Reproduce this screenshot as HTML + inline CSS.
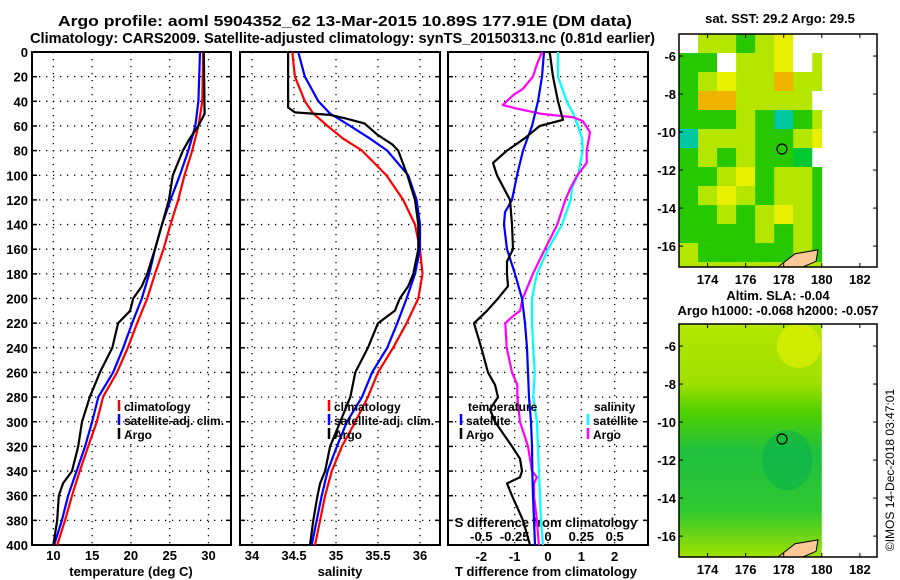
<!DOCTYPE html>
<html><head><meta charset="utf-8"><style>
html,body{margin:0;padding:0;background:#fff;}
svg{display:block;font-family:"Liberation Sans",sans-serif;}
.t{font-weight:bold;font-size:13px;}
.lg{font-weight:bold;font-size:12px;}
</style></head><body>
<svg id="c" width="900" height="580" viewBox="0 0 900 580" xmlns="http://www.w3.org/2000/svg">
<text x="58" y="26" textLength="574" lengthAdjust="spacingAndGlyphs" class="t" style="font-size:15px">Argo profile: aoml 5904352_62 13-Mar-2015 10.89S 177.91E (DM data)</text>
<text x="30" y="43" textLength="625" lengthAdjust="spacingAndGlyphs" class="t" style="font-size:15px">Climatology: CARS2009. Satellite-adjusted climatology: synTS_20150313.nc (0.81d earlier)</text>
<text x="780" y="23" text-anchor="middle" class="t">sat. SST: 29.2 Argo: 29.5</text>
<text x="778" y="300" text-anchor="middle" class="t">Altim. SLA: -0.04</text>
<text x="778" y="315" text-anchor="middle" class="t">Argo h1000: -0.068 h2000: -0.057</text>
<text transform="translate(894,470) rotate(-90)" text-anchor="middle" style="font-size:12px">©IMOS 14-Dec-2018 03:47:01</text>
<text x="131" y="576" text-anchor="middle" class="t">temperature (deg C)</text>
<text x="340" y="576" text-anchor="middle" class="t">salinity</text>
<text x="546" y="576" text-anchor="middle" class="t">T difference from climatology</text>
<text x="546" y="527" text-anchor="middle" class="t">S difference from climatology</text>
</svg>
<script>
// ---- data (depths in m) ----
const depthsT = [0,40,60,80,100,120,140,160,180,200,220,240,260,280,300,320,340,360,380,400];
const tempClim = [29.3,29.2,28.7,27.9,26.9,26.1,25.1,24.2,23.1,22.1,20.8,19.6,18.2,16.4,15.6,14.5,13.4,12.4,11.5,10.5];
const tempSat  = [28.9,28.7,28.3,27.4,26.3,25.1,24.0,23.1,22.35,21.4,20.15,19.0,17.7,15.8,15.0,14.1,13.0,11.9,11.1,10.1];
const depthsArgoT = [0,50,60,70,80,100,120,140,160,180,190,200,210,220,240,260,280,300,320,340,350,360,380,400];
const tempArgo = [29.4,29.5,28.7,27.6,26.7,25.4,24.9,24.0,23.1,22.1,21.4,20.3,19.9,18.35,17.6,16.0,14.7,13.7,13.2,12.4,11.25,10.7,10.5,10.0];

const depthsS = [0,20,40,50,60,70,80,100,120,140,160,180,200,220,240,260,280,300,320,340,360,380,400];
const salClim = [34.48,34.51,34.63,34.73,34.90,35.08,35.31,35.60,35.80,35.94,36.00,36.03,35.98,35.84,35.68,35.50,35.38,35.23,35.07,34.95,34.87,34.81,34.75];
const salSat  = [34.55,34.63,34.79,34.93,35.17,35.40,35.61,35.86,35.96,36.00,36.00,35.94,35.84,35.73,35.61,35.43,35.31,35.13,35.01,34.90,34.83,34.77,34.71];
const depthsArgoS = [0,45,49,51,54,58,67,75,80,100,120,140,160,180,190,200,210,220,240,260,280,300,320,340,350,360,380,400];
const salArgo = [34.43,34.43,34.51,34.93,35.12,35.34,35.49,35.67,35.74,35.85,35.94,35.98,35.98,35.92,35.86,35.76,35.70,35.50,35.38,35.23,35.17,35.05,34.93,34.87,34.81,34.78,34.73,34.69];

const depthsD = [0,20,40,60,80,100,120,130,140,160,180,200,220,240,260,280,300,320,340,360,380,400];
const dTSat = [-0.12,-0.18,-0.30,-0.48,-0.75,-0.93,-1.08,-1.29,-1.32,-1.23,-0.99,-0.78,-0.69,-0.63,-0.60,-0.57,-0.51,-0.48,-0.47,-0.45,-0.42,-0.39];
const depthsDArgoT = [0,20,40,50,55,60,70,80,90,100,120,140,160,170,180,190,200,210,220,240,260,270,280,290,300,320,330,340,345,350,360,380,400];
const dTArgo = [0.05,0.15,0.30,0.40,0.45,-0.25,-0.70,-1.23,-1.65,-1.53,-1.14,-1.08,-1.05,-1.23,-1.23,-1.20,-1.50,-1.83,-2.22,-2.00,-1.80,-1.59,-1.50,-1.74,-1.59,-1.08,-0.84,-0.78,-0.84,-1.23,-1.08,-0.75,-0.54];
const depthsDS = [0,20,40,50,60,70,80,100,110,120,140,160,180,200,220,240,260,280,300,320,340,360,380,400];
const dSSat = [0.075,0.075,0.14,0.19,0.225,0.255,0.26,0.225,0.18,0.17,0.105,0.0,-0.083,-0.12,-0.12,-0.11,-0.10,-0.11,-0.083,-0.075,-0.068,-0.06,-0.053,-0.038];
const depthsDArgoS = [0,10,20,30,35,40,43,46,50,53,56,65,80,90,100,110,120,140,160,180,200,210,215,220,240,260,270,280,300,320,340,345,350,360,380,400];
const dSArgo = [-0.045,-0.083,-0.113,-0.19,-0.26,-0.31,-0.34,-0.23,-0.06,0.19,0.26,0.315,0.29,0.29,0.22,0.17,0.13,0.07,-0.023,-0.113,-0.19,-0.21,-0.27,-0.32,-0.31,-0.27,-0.23,-0.23,-0.21,-0.15,-0.12,-0.083,-0.105,-0.105,-0.083,-0.068];

const depthTicks = [0,20,40,60,80,100,120,140,160,180,200,220,240,260,280,300,320,340,360,380,400];
const tempTicks = [10,15,20,25,30];
const salTicks = [34,34.5,35,35.5,36];
const dTTicks = [-2,-1,0,1,2];
const dTLabels = [-2,-1,0,1,2];
const dSTicks = [-0.5,-0.25,0,0.25,0.5];
const lonTicks = [174,176,178,180,182];
const latTicks = [-6,-8,-10,-12,-14,-16];
const argoLon = 177.91, argoLat = -10.89;

// coarse SST map categories (rows from -4.8 S, 1 deg cells starting 172.5E)
const sstRows = [
 "wyygyYww","ggwyyYwy","gyYyyoyy","gooyyyyw","gggygcgy","cyyyggyY",
 "gygyggGw","ggyYgyyg","gyYygyyg","ggygyYyg","ggggygyg","ygggggyg","yyyyyyyy"];
const sstColors = {w:"#ffffff",y:"#b4e600",Y:"#e6f000",g:"#28c800",G:"#00c832",c:"#00c8a0",o:"#f0b400"};

const svg = document.getElementById('c');
const NS = "http://www.w3.org/2000/svg";
function mk(tag, attrs, parent){const e=document.createElementNS(NS,tag);for(const k in attrs)e.setAttribute(k,attrs[k]);(parent||svg).appendChild(e);return e;}

const Y0=52, Y1=545;
const yD = d => Y0 + (d/400)*(Y1-Y0);
function scale(d0,d1,p0,p1){return v=>p0+(v-d0)/(d1-d0)*(p1-p0);}
const panels = [
 {name:'temperature', x0:32, x1:231, sx:scale(7.25,32.9,32,231), ticks:tempTicks, labels:tempTicks},
 {name:'salinity', x0:240, x1:440, sx:scale(33.857,36.238,240,440), ticks:salTicks, labels:salTicks},
 {name:'difference', x0:448, x1:648, sx:scale(-3,3,448,648), ticks:dTTicks, labels:dTLabels}
];
const sxS = scale(-0.75,0.75,448,648);

panels.forEach((p,pi)=>{
  const g = mk('g',{});
  
  
  depthTicks.forEach(d=>{
    if(d>0&&d<400){
      const l=mk('line',{x1:p.x0,x2:p.x1,y1:yD(d),y2:yD(d),stroke:'#000','stroke-width':1.3,'stroke-dasharray':'1.3 5.7'},g);
      
      
    }
    mk('line',{x1:p.x0,x2:p.x0+5,y1:yD(d),y2:yD(d),stroke:'#000','stroke-width':1.5},g);
    mk('line',{x1:p.x1-5,x2:p.x1,y1:yD(d),y2:yD(d),stroke:'#000','stroke-width':1.5},g);
    if(pi===0){
      const t=mk('text',{x:28,y:yD(d)+5,'text-anchor':'end','class':'t'},g);
      t.textContent=d;
      
      
    }
  });
  p.ticks.forEach((v,i)=>{
    const x=p.sx(v);
    mk('line',{x1:x,x2:x,y1:Y0,y2:Y1,stroke:'#000','stroke-width':1.3,'stroke-dasharray':'1.3 5.7'},g);
    const t=mk('text',{x:x,y:pi===2?561:560,'text-anchor':'middle','class':'t'},g);
    t.textContent=p.labels[i];
    
    
  });
  const r=mk('rect',{x:p.x0,y:Y0,width:p.x1-p.x0,height:Y1-Y0,fill:'none',stroke:'#000','stroke-width':2},g);
  
  
});
dSTicks.forEach(v=>{
  const t=mk('text',{x:sxS(v),y:541,'text-anchor':'middle','class':'t'});
  t.textContent=v;
  
  
});

function line(depths, vals, sx, color, name){
  const pts = depths.map((d,i)=>sx(vals[i]).toFixed(1)+','+yD(d).toFixed(1)).join(' ');
  const pl = mk('polyline',{points:pts,fill:'none',stroke:color,'stroke-width':2.2,'stroke-linejoin':'round'});
  
  
}
line(depthsT,tempClim,panels[0].sx,'#ff0000','temp-climatology-line');
line(depthsT,tempSat,panels[0].sx,'#0000ff','temp-satellite-line');
line(depthsArgoT,tempArgo,panels[0].sx,'#000000','temp-argo-line');
line(depthsS,salClim,panels[1].sx,'#ff0000','sal-climatology-line');
line(depthsS,salSat,panels[1].sx,'#0000ff','sal-satellite-line');
line(depthsArgoS,salArgo,panels[1].sx,'#000000','sal-argo-line');
line(depthsDS,dSSat,sxS,'#00ffff','s-diff-satellite-line');
line(depthsDArgoS,dSArgo,sxS,'#ff00ff','s-diff-argo-line');
line(depthsD,dTSat,panels[2].sx,'#0000ff','t-diff-satellite-line');
line(depthsDArgoT,dTArgo,panels[2].sx,'#000000','t-diff-argo-line');

function legend(x,y,color,label){
  const g=mk('g',{});
  
  
  if(color) mk('line',{x1:x,x2:x,y1:y-11,y2:y,stroke:color,'stroke-width':2.5},g);
  const t=mk('text',{x:color?x+5:x,y:y,'class':'lg'},g);
  t.textContent=label;
}
legend(119,411,'#ff0000','climatology');legend(119,425,'#0000ff','satellite-adj. clim.');legend(119,439,'#000','Argo');
legend(329,411,'#ff0000','climatology');legend(329,425,'#0000ff','satellite-adj. clim.');legend(329,439,'#000','Argo');
legend(468,411,null,'temperature');legend(461,425,'#0000ff','satellite');legend(461,439,'#000','Argo');
legend(594,411,null,'salinity');legend(588,425,'#00ffff','satellite');legend(588,439,'#ff00ff','Argo');

// ---- maps ----
const MX0=679, MX1=877;
const lonX = scale(172.5,182.9,MX0,MX1);
function drawMap(top, name, kind){
  const bot = top+233;
  const latY = scale(-4.84,-17.1,top,bot);
  const g=mk('g',{});
  
  
  if(kind==='sst'){
    sstRows.forEach((row,ri)=>{
      for(let ci=0;ci<row.length;ci++){
        const lon0=172.5+ci, lon1=Math.min(180,lon0+1);
        const la0=-4.84-ri, la1=Math.max(-17.1,la0-1);
        const x=lonX(lon0), y=latY(la0);
        mk('rect',{x:x,y:y,width:lonX(lon1)-x+0.3,height:latY(la1)-y+0.3,fill:sstColors[row[ci]]},g);
      }
    });
  } else {
    const defs=mk('defs',{},g);
    const lg=mk('linearGradient',{id:'slag',x1:0,y1:0,x2:0,y2:1},defs);
    [[0,'#b4e600'],[0.25,'#a0e000'],[0.38,'#50d000'],[0.55,'#20c040'],[0.8,'#30c830'],[1,'#a0e000']].forEach(s=>mk('stop',{offset:s[0],'stop-color':s[1]},lg));
    const x=lonX(172.5);
    mk('rect',{x:x,y:top,width:lonX(180)-x,height:233,fill:'url(#slag)'},g);
    mk('ellipse',{cx:lonX(178.8),cy:latY(-6),rx:22,ry:22,fill:'#e0f000',opacity:0.7},g);
    mk('ellipse',{cx:lonX(178.2),cy:latY(-12),rx:25,ry:30,fill:'#00b050',opacity:0.5},g);
  }
  mk('path',{d:`M${lonX(177.7)} ${bot} L${lonX(178.6)} ${latY(-16.4)} L${lonX(179.8)} ${latY(-16.2)} L${lonX(179.7)} ${latY(-16.8)} L${lonX(179)} ${bot} Z`,fill:'#ffc896',stroke:'#000','stroke-width':1},g);
  latTicks.forEach(v=>{
    const y=latY(v);
    mk('line',{x1:MX0,x2:MX0+4,y1:y,y2:y,stroke:'#000'},g);
    mk('line',{x1:MX1-4,x2:MX1,y1:y,y2:y,stroke:'#000'},g);
    const t=mk('text',{x:676,y:y+5,'text-anchor':'end','class':'t'},g);
    t.textContent=v;
  });
  lonTicks.forEach(v=>{
    const x=lonX(v);
    mk('line',{x1:x,x2:x,y1:top,y2:top+4,stroke:'#000'},g);
    mk('line',{x1:x,x2:x,y1:bot-4,y2:bot,stroke:'#000'},g);
    const t=mk('text',{x:x,y:bot+17,'text-anchor':'middle','class':'t'},g);
    t.textContent=v;
  });
  const c=mk('circle',{cx:lonX(argoLon),cy:latY(argoLat),r:5,fill:'none',stroke:'#000','stroke-width':1.2},g);
  
  
  mk('rect',{x:MX0,y:top,width:MX1-MX0,height:233,fill:'none',stroke:'#000','stroke-width':1.5},g);
}
drawMap(34,'sst-map','sst');
drawMap(324,'sla-map','sla');
</script>
</body></html>
